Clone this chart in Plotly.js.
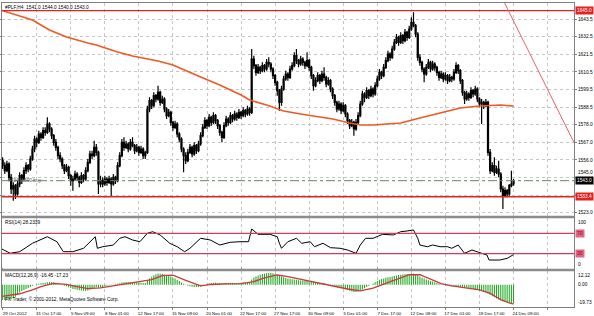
<!DOCTYPE html>
<html><head><meta charset="utf-8">
<script src="https://cdn.plot.ly/plotly-3.0.1.min.js"></script>
<style>html,body{margin:0;padding:0;background:#fff}#chart{width:594px;height:316px}</style>
</head><body><div id="chart"></div>
<script>
// ---- H4 bars, #PLF, 29 Oct 2012 .. 24 Dec 2012 ----
const openP = [
1555,1552,1549,1553,1545,1538,1540,1535,1541,1546,
1544,1549,1552,1550,1556,1562,1568,1566,1571,1569,
1573,1572,1577,1574,1570,1566,1563,1558,1556,1552,
1549,1551,1546,1543,1544,1547,1545,1542,1546,1544,
1549,1554,1559,1558,1563,1560,1541,1543,1541,1544,
1542,1544,1541,1545,1543,1552,1558,1566,1563,1565,
1562,1566,1564,1561,1563,1560,1562,1558,1560,1586,
1591,1588,1594,1592,1596,1590,1592,1586,1582,1584,
1578,1575,1577,1571,1568,1562,1558,1555,1560,1563,
1559,1564,1561,1565,1570,1575,1579,1576,1581,1578,
1582,1579,1576,1572,1569,1576,1580,1578,1582,1580,
1583,1581,1584,1582,1585,1583,1586,1584,1616,1612,
1608,1611,1609,1612,1610,1614,1613,1610,1606,1602,
1597,1590,1598,1604,1607,1605,1610,1612,1618,1615,
1613,1616,1614,1612,1615,1611,1606,1600,1603,1606,
1603,1607,1605,1601,1603,1598,1594,1590,1586,1589,
1585,1588,1583,1579,1576,1578,1574,1578,1582,1589,
1595,1593,1597,1594,1598,1595,1600,1604,1608,1606,
1611,1615,1619,1617,1622,1626,1629,1626,1630,1627,
1632,1629,1634,1638,1636,1631,1617,1614,1610,1607,
1611,1614,1610,1613,1611,1608,1605,1607,1604,1606,
1603,1605,1604,1608,1612,1609,1603,1596,1592,1595,
1593,1597,1595,1598,1592,1589,1590,1588,1590,1560,
1549,1552,1548,1550,1547,1538,1534,1537,1535,1540,
1541];
const highP = [
1557,1554,1555,1554,1547,1542,1541,1543,1548,1547,
1551,1554,1553,1558,1564,1570,1569,1573,1572,1575,
1575,1581,1578,1575,1571,1568,1564,1560,1557,1553,
1553,1552,1547,1546,1549,1548,1546,1548,1547,1551,
1556,1561,1561,1567,1565,1561,1546,1545,1546,1545,
1546,1545,1547,1546,1554,1560,1568,1569,1567,1566,
1568,1569,1565,1565,1564,1564,1563,1561,1588,1593,
1592,1596,1595,1600,1597,1594,1593,1587,1586,1585,
1579,1579,1578,1572,1569,1563,1560,1562,1565,1564,
1566,1565,1567,1572,1577,1581,1580,1583,1582,1584,
1583,1580,1577,1573,1578,1582,1581,1584,1583,1585,
1584,1586,1585,1587,1586,1588,1587,1622,1618,1613,
1613,1612,1614,1613,1616,1617,1614,1611,1607,1603,
1598,1600,1606,1609,1608,1612,1614,1620,1622,1616,
1618,1617,1615,1620,1616,1612,1607,1605,1608,1607,
1609,1611,1606,1605,1604,1599,1595,1591,1591,1590,
1590,1589,1584,1580,1580,1579,1580,1584,1591,1597,
1596,1599,1598,1600,1599,1602,1606,1610,1609,1613,
1617,1621,1620,1624,1628,1631,1630,1632,1631,1634,
1633,1636,1641,1644,1637,1632,1619,1615,1611,1613,
1616,1615,1615,1614,1612,1609,1609,1608,1608,1607,
1607,1606,1610,1614,1613,1610,1604,1597,1597,1596,
1599,1598,1600,1599,1593,1592,1591,1592,1591,1562,
1554,1557,1552,1555,1548,1540,1539,1538,1541,1549,
1544];
const lowP = [
1550,1547,1548,1543,1535,1531,1532,1534,1539,1541,
1543,1547,1548,1549,1555,1560,1563,1565,1567,1568,
1570,1571,1572,1568,1564,1561,1556,1554,1550,1547,
1548,1544,1540,1537,1543,1543,1539,1541,1542,1543,
1548,1553,1556,1557,1558,1535,1539,1539,1540,1540,
1541,1534,1540,1541,1542,1551,1557,1561,1562,1560,
1561,1563,1559,1560,1558,1559,1556,1556,1559,1584,
1586,1587,1590,1591,1588,1589,1584,1580,1581,1576,
1573,1574,1569,1566,1560,1548,1553,1554,1559,1557,
1558,1559,1560,1564,1569,1574,1574,1575,1576,1577,
1577,1574,1570,1566,1568,1575,1576,1577,1578,1579,
1579,1580,1580,1581,1581,1582,1582,1583,1610,1606,
1607,1607,1608,1608,1609,1611,1608,1604,1600,1594,
1585,1588,1597,1603,1603,1604,1609,1611,1613,1611,
1612,1612,1610,1611,1609,1604,1597,1599,1602,1601,
1602,1603,1599,1600,1596,1592,1588,1584,1585,1583,
1584,1581,1577,1574,1575,1570,1573,1577,1581,1588,
1590,1592,1592,1593,1593,1594,1599,1603,1604,1605,
1610,1614,1615,1616,1621,1625,1624,1625,1625,1626,
1627,1628,1633,1635,1629,1615,1612,1608,1602,1606,
1610,1608,1609,1609,1606,1603,1604,1602,1603,1601,
1602,1602,1603,1607,1607,1601,1594,1589,1591,1591,
1592,1593,1594,1590,1587,1577,1586,1587,1558,1547,
1548,1546,1547,1545,1536,1526,1533,1533,1534,1539,
1540];
const closeP = [
1552,1549,1553,1545,1538,1540,1535,1541,1546,1544,
1549,1552,1550,1556,1562,1568,1566,1571,1569,1573,
1572,1577,1574,1570,1566,1563,1558,1556,1552,1549,
1551,1546,1543,1544,1547,1545,1542,1546,1544,1549,
1554,1559,1558,1563,1560,1541,1543,1541,1544,1542,
1544,1541,1545,1543,1552,1558,1566,1563,1565,1562,
1566,1564,1561,1563,1560,1562,1558,1560,1586,1591,
1588,1594,1592,1596,1590,1592,1586,1582,1584,1578,
1575,1577,1571,1568,1562,1558,1555,1560,1563,1559,
1564,1561,1565,1570,1575,1579,1576,1581,1578,1582,
1579,1576,1572,1569,1576,1580,1578,1582,1580,1583,
1581,1584,1582,1585,1583,1586,1584,1616,1612,1608,
1611,1609,1612,1610,1614,1613,1610,1606,1602,1597,
1590,1598,1604,1607,1605,1610,1612,1618,1615,1613,
1616,1614,1612,1615,1611,1606,1600,1603,1606,1603,
1607,1605,1601,1603,1598,1594,1590,1586,1589,1585,
1588,1583,1579,1576,1578,1574,1578,1582,1589,1595,
1593,1597,1594,1598,1595,1600,1604,1608,1606,1611,
1615,1619,1617,1622,1626,1629,1626,1630,1627,1632,
1629,1634,1638,1636,1631,1617,1614,1610,1607,1611,
1614,1610,1613,1611,1608,1605,1607,1604,1606,1603,
1605,1604,1608,1612,1609,1603,1596,1592,1595,1593,
1597,1595,1598,1592,1589,1590,1588,1590,1560,1549,
1552,1548,1550,1547,1538,1534,1537,1535,1540,1541,
1543];

// moving average (read at sample bars)
const maBar = [-1,14,22,30,40,44,54,61,73,80,93,102,112,116,124,132,140,148,155,163,168,174,181,187,196,206,215,224,234,240];
const maVal = [1645.4,1639.4,1633.4,1629.2,1625.6,1624.4,1620.2,1617.8,1614.8,1612.4,1605.2,1600.4,1594.4,1591.4,1588.4,1584.8,1583.0,1581.2,1580.0,1577.6,1576.4,1576.4,1577.0,1577.6,1580.6,1583.6,1586.6,1587.8,1588.4,1587.8];

// RSI(14) (read at sample bars)
const rsiBar = [-1,3.5,8,14,21,25.5,28.5,33,38,41,43.5,44.5,47,52,55,57.5,61,64.5,68,70.5,74,78.5,82,85.5,88,93,97.5,102,107,111.5,115.5,117,120,125.5,129,130,131,134,138,140.5,144.5,146.5,150.5,154,158.5,162,164.5,166,168,170.5,174,178.5,183.5,187,190,193,195,196,199.5,202,205.5,209,211,214,217,220.5,225,227.5,228.5,233.5,237,240];
const rsiVal = [40.6,30.8,33.9,50.4,63.3,53.5,33.9,33.9,40.6,53.5,63.3,40.6,43.7,47,60.2,63.3,56.9,53.5,70,73.1,66.7,50.4,43.7,33.9,40.6,60.2,56.9,47,52.4,53.5,53.5,78.4,68,68,63.3,50.4,40.6,53.5,60.2,50.4,53.5,43.7,50.4,41.8,40.6,37.3,33.9,30.8,47,60.2,60.2,68,66.7,73.1,74.5,76.5,60.2,47,43.7,47,43.7,43.7,40.6,47,30.8,37.3,30.8,27.5,17.6,17.6,20.9,28.23];

// MACD(12,26,9) main per bar
const macdMain = [
-13.5,-13.6,-13.2,-13.0,-12.8,-11.8,-10.6,-8.9,-7.0,-5.6,
-4.6,-3.8,-2.9,-2.0,-1.0,0.0,0.5,0.9,1.2,1.5,
1.7,2.2,2.4,2.3,2.1,1.6,1.0,0.4,-0.3,-0.9,
-1.4,-2.2,-3.0,-3.7,-4.1,-4.4,-4.9,-5.2,-5.4,-5.5,
-5.2,-4.4,-3.6,-2.6,-2.0,-2.8,-2.5,-2.0,-1.4,-0.9,
-0.4,-0.3,0.1,0.3,0.8,1.3,1.9,2.2,2.3,2.3,
2.4,2.4,2.2,2.1,1.9,1.8,1.6,1.5,3.8,5.7,
7.0,8.4,9.3,10.0,9.8,9.6,9.1,8.5,8.0,7.2,
6.2,5.4,4.3,3.2,2.0,0.8,-0.3,-0.9,-1.3,-1.8,
-2.0,-2.1,-2.0,-1.5,-0.8,0.0,0.8,1.3,1.5,1.7,
1.8,1.6,1.4,1.2,1.3,1.4,1.4,1.5,1.5,1.6,
1.6,1.7,1.7,1.9,2.0,2.2,2.4,4.6,6.4,7.3,
8.1,8.8,9.4,9.8,10.1,10.4,10.4,10.2,9.6,8.9,
8.1,7.3,6.6,6.0,5.6,5.2,4.9,4.6,4.3,4.0,
3.8,3.6,3.4,3.3,3.1,2.9,2.6,2.3,2.0,1.8,
1.5,1.2,0.8,0.3,-0.2,-0.8,-1.4,-1.9,-2.3,-2.6,
-3.0,-3.7,-4.5,-5.3,-6.0,-6.5,-6.4,-6.0,-5.2,-4.2,
-3.1,-2.0,-1.0,0.0,1.0,2.2,3.3,4.3,5.0,5.6,
6.2,6.6,6.8,7.2,7.7,8.2,8.6,8.9,9.1,9.3,
9.4,9.5,9.7,9.8,9.5,8.4,7.3,6.2,5.4,4.6,
4.0,3.3,2.8,2.2,1.5,0.9,0.4,0.0,-0.4,-0.8,
-1.1,-1.3,-1.5,-1.6,-1.8,-2.0,-2.3,-2.6,-2.8,-3.0,
-3.3,-3.7,-4.2,-4.7,-5.2,-5.6,-6.0,-6.4,-7.8,-9.2,
-10.2,-11.2,-12.2,-13.1,-13.9,-14.6,-15.2,-15.6,-16.0,-16.3,
-16.45];
// MACD signal (read at sample bars)
const sigBar = [-1,8,14,18,24,30,35,40,46,52,58,64,70,75,80,86,93,98,104,112,118,123,129,134,140,145,152,157,162,168,174,180,186,191,196,201,206,211,217,224,229,234,238,240];
const sigVal = [-10.5,-8.0,-4.5,-1.8,1.2,0.2,-1.8,-3.5,-2.8,-1.0,0.9,2.6,4.5,8.0,8.4,3.8,-1.0,0.2,0.8,0.9,2.8,6.0,8.6,7.2,4.8,3.4,0.5,-1.5,-3.8,-5.4,-3.0,1.2,5.0,8.8,8.8,5.2,1.0,-1.0,-2.6,-4.5,-7.6,-13.2,-16.0,-17.23];

// time scale labels (every 16 bars) and price scale labels
const timeTickBars = [0,16,32,48,64,80,96,112,128,144,160,176,192,208,224,240,256];
const timeTickText = ["29 Oct 2012","31 Oct 17:00","5 Nov 09:00","8 Nov 01:00","12 Nov 17:00","15 Nov 09:00","20 Nov 01:00","22 Nov 17:00","27 Nov 17:00","30 Nov 09:00","5 Dec 01:00","7 Dec 17:00","12 Dec 09:00","17 Dec 01:00","19 Dec 17:00","24 Dec 09:00",""];
const priceTickVals = [1640.0,1629.4,1618.9,1608.3,1597.8,1587.2,1576.6,1566.1,1555.5,1545.0,1534.4,1523.8];
// "1545.0" is drawn just above the bid box; "1534.0" is hidden under the support box in the original
const priceTickText = ["1643.5","1632.5","1621.5","1610.5","1599.5","1588.5","1578.0","1567.0","1556.0","","","1523.0"];

const lastOHLC = [1541.0,1544.0,1540.0,1543.0];
const resistance = 1645.0, support = 1533.4, bid = 1543.0;
const rsiLevels = [70,30];

const bars = closeP.map((_, i) => i);
const FONT = 'Liberation Sans, Arial, sans-serif';
const fs = 4.8;

const traces = [
  {type:'candlestick', x:bars, open:openP, high:highP, low:lowP, close:closeP, xaxis:'x', yaxis:'y',
   increasing:{line:{color:'#000000', width:1.2}, fillcolor:'#ffffff'},
   decreasing:{line:{color:'#000000', width:1.2}, fillcolor:'#000000'},
   whiskerwidth:0, hoverinfo:'skip', showlegend:false},
  {type:'scatter', mode:'lines', x:maBar, y:maVal, xaxis:'x', yaxis:'y',
   line:{color:'#ee5a22', width:1.6}, hoverinfo:'skip', showlegend:false},
  {type:'scatter', mode:'lines', x:rsiBar, y:rsiVal, xaxis:'x', yaxis:'y2',
   line:{color:'#000000', width:1}, hoverinfo:'skip', showlegend:false},
  {type:'bar', x:bars, y:macdMain, xaxis:'x', yaxis:'y3',
   marker:{color:'#22a822', line:{width:0}}, hoverinfo:'skip', showlegend:false},
  {type:'scatter', mode:'lines', x:sigBar, y:sigVal, xaxis:'x', yaxis:'y3',
   line:{color:'#c83a3a', width:1.3}, hoverinfo:'skip', showlegend:false}
];

const axCommon = {showline:true, linecolor:'#808080', linewidth:1, mirror:'all', zeroline:false, fixedrange:true};

const ann = [];
function boxLabel(text, yref, y, bg, fg){
  ann.push({xref:'paper', x:1, xanchor:'left', xshift:1, yref:yref, y:y, yanchor:'middle', text:text, showarrow:false,
    font:{family:FONT, size:fs, color:fg}, bgcolor:bg, borderpad:1});
}
boxLabel(resistance.toFixed(1), 'y', resistance, '#e42222', '#ffffff');
boxLabel(bid.toFixed(1), 'y', bid, '#000000', '#ffffff');
boxLabel(support.toFixed(1), 'y', support, '#e42222', '#ffffff');
boxLabel(String(rsiLevels[0]), 'y2', rsiLevels[0], '#e66482', '#7a0020');
boxLabel(String(rsiLevels[1]), 'y2', rsiLevels[1], '#e66482', '#7a0020');
function plainLabel(text, yref, y, ya, ys){
  ann.push({xref:'paper', x:1, xanchor:'left', xshift:2, yref:yref, y:y, yanchor:ya, yshift:ys||0, text:text, showarrow:false,
    font:{family:FONT, size:fs, color:'#000000'}});
}
plainLabel('1545.0', 'y', bid, 'bottom', 4);
plainLabel('100', 'y2', 100, 'top');
plainLabel('0', 'y2', 0, 'bottom');
plainLabel('12.12', 'y3', 12.12, 'top');
plainLabel('0.00', 'y3', 0, 'middle');
plainLabel('-19.73', 'y3', -19.73, 'bottom');
function txt(text, xref, x, yref, y, ya, col){
  ann.push({xref:xref, x:x, xanchor:'left', yref:yref, y:y, yanchor:ya, text:text, showarrow:false,
    font:{family:FONT, size:fs, color:col||'#000000'}});
}
txt('#PLF,H4  ' + lastOHLC.map(v=>v.toFixed(1)).join(' '), 'paper', 0.002, 'y domain', 1, 'top');
txt('RSI(14) 28.2339', 'paper', 0.002, 'y2 domain', 1, 'top');
txt('MACD(12,26,9) -16.45 -17.23', 'paper', 0.002, 'y3 domain', 1, 'top');
txt('FX Trader, © 2001-2012, MetaQuotes Software Corp.', 'paper', 0.002, 'y3 domain', 0.08, 'bottom');
txt('#43401590 buy', 'x', 1.5, 'y', bid, 'middle', '#555555');

const shapes = [
  {type:'line', xref:'paper', x0:0, x1:1, yref:'y', y0:resistance, y1:resistance, line:{color:'#e42222', width:1.4}},
  {type:'line', xref:'paper', x0:0, x1:1, yref:'y', y0:support, y1:support, line:{color:'#e42222', width:1.4}},
  {type:'line', xref:'paper', x0:0, x1:1, yref:'y', y0:bid, y1:bid, line:{color:'#5f8a5f', width:1, dash:'dashdot'}},
  {type:'line', xref:'x', yref:'y', x0:235.8, y0:1649.6, x1:268.4, y1:1565.9, line:{color:'#e46464', width:1}},
  {type:'line', xref:'paper', x0:0, x1:1, yref:'y2', y0:rsiLevels[0], y1:rsiLevels[0], line:{color:'#d23c5c', width:1.3}},
  {type:'line', xref:'paper', x0:0, x1:1, yref:'y2', y0:rsiLevels[1], y1:rsiLevels[1], line:{color:'#d23c5c', width:1.3}},
  {type:'line', xref:'paper', x0:0, x1:1, yref:'paper', y0:0.296, y1:0.296, line:{color:'#8c8c8c', width:2.5}},
  {type:'line', xref:'paper', x0:0, x1:1, yref:'paper', y0:0.1217, y1:0.1217, line:{color:'#8c8c8c', width:2.5}}
];

const layout = {
  width:594, height:316,
  margin:{l:2, r:20, t:3, b:9, pad:0},
  paper_bgcolor:'#ffffff', plot_bgcolor:'#ffffff',
  font:{family:FONT, size:fs, color:'#000000'},
  showlegend:false, hovermode:false, bargap:0.5,
  xaxis: Object.assign({}, axCommon, {
    anchor:'y3', range:[-0.3, 268.4], type:'linear',
    tickmode:'array', tickvals:timeTickBars, ticktext:timeTickText,
    ticks:'outside', ticklen:2, tickcolor:'#808080', ticklabelshift:12, ticklabelstandoff:0,
    showgrid:true, gridcolor:'#c4c4c4', griddash:'dot', gridwidth:1,
    tickfont:{family:FONT, size:4.4, color:'#000000'},
    rangeslider:{visible:false}
  }),
  yaxis: Object.assign({}, axCommon, {
    domain:[0.2993, 1], anchor:'x', side:'right', range:[1521.8, 1649.6],
    tickmode:'array', tickvals:priceTickVals, ticktext:priceTickText,
    ticks:'outside', ticklen:2, tickcolor:'#808080',
    showgrid:true, gridcolor:'#c4c4c4', griddash:'dot', gridwidth:1,
    tickfont:{family:FONT, size:fs, color:'#000000'}
  }),
  yaxis2: Object.assign({}, axCommon, {
    domain:[0.125, 0.2928], anchor:'x', side:'right', range:[0, 100],
    showticklabels:false, ticks:'', showgrid:false
  }),
  yaxis3: Object.assign({}, axCommon, {
    domain:[0, 0.1184], anchor:'x', side:'right', range:[-19.73, 12.12],
    showticklabels:false, ticks:'', showgrid:false
  }),
  annotations: ann,
  shapes: shapes
};

Plotly.newPlot('chart', traces, layout, {staticPlot:true, displayModeBar:false});
</script>
</body></html>
